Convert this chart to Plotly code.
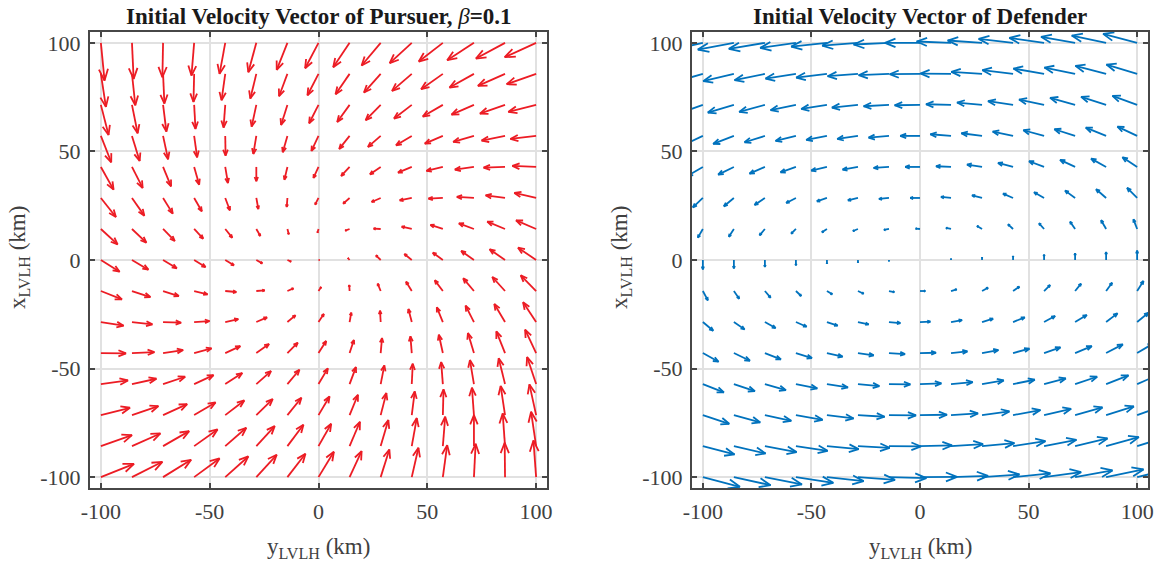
import plotly.graph_objects as go

# Grid of initial positions (km): columns along y_LVLH, rows along x_LVLH (top row first)
Y_POS = [-100, -85.714, -71.429, -57.143, -42.857, -28.571, -14.286, 0,
         14.286, 28.571, 42.857, 57.143, 71.429, 85.714, 100]
X_POS = [100, 85.714, 71.429, 57.143, 42.857, 28.571, 14.286, 0,
         -14.286, -28.571, -42.857, -57.143, -71.429, -85.714, -100]

TICKS = [-100, -50, 0, 50, 100]
TICK_TEXT = ["-100", "-50", "0", "50", "100"]

# Pursuer initial velocity, component along y_LVLH (horizontal), arrow units
PURSUER_VY = [
    [11, 5, -2, -8, -17, -24, -32, -40, -49, -57, -66, -72, -80, -87, -94],
    [15, 10, 4, -2, -11, -18, -25, -33, -42, -50, -59, -65, -73, -81, -88],
    [23, 17, 10, 4, -5, -14, -19, -28, -37, -45, -53, -60, -67, -75, -83],
    [31, 23, 15, 9, 1, -9, -14, -21, -31, -38, -47, -54, -62, -70, -77],
    [38, 32, 24, 15, 8, 0, -9, -15, -25, -32, -41, -49, -57, -64, -71],
    [45, 37, 29, 23, 14, 6, -2, -10, -19, -27, -36, -43, -51, -58, -65],
    [50, 43, 35, 27, 21, 12, 4, -3, -13, -21, -30, -37, -45, -53, -60],
    [56, 49, 41, 34, 26, 18, 11, 3, -5, -14, -22, -30, -38, -46, -54],
    [63, 55, 47, 40, 33, 25, 18, 8, -1, -9, -17, -24, -32, -38, -46],
    [68, 61, 54, 46, 39, 32, 24, 16, 5, -2, -10, -18, -25, -32, -39],
    [75, 67, 60, 52, 45, 38, 31, 23, 13, 4, -4, -12, -18, -26, -33],
    [81, 73, 66, 58, 51, 44, 36, 28, 19, 11, 3, -5, -12, -19, -27],
    [87, 79, 72, 64, 57, 49, 42, 33, 25, 17, 9, 2, -6, -13, -20],
    [93, 85, 78, 70, 63, 55, 48, 38, 31, 23, 15, 7, 0, -7, -15],
    [99, 91, 84, 76, 69, 61, 54, 46, 36, 26, 20, 13, 5, -1, -8],
]

# Pursuer initial velocity, component along x_LVLH (vertical), arrow units
PURSUER_VX = [
    [-113, -108, -103, -98, -93, -88, -81, -76, -73, -68, -61, -56, -52, -47, -43],
    [-99, -94, -89, -84, -79, -74, -67, -64, -61, -56, -51, -46, -41, -36, -31],
    [-90, -85, -80, -72, -68, -65, -60, -55, -51, -46, -41, -35, -29, -26, -21],
    [-79, -75, -70, -64, -59, -54, -49, -45, -39, -33, -28, -23, -18, -14, -9],
    [-68, -63, -58, -53, -48, -43, -38, -33, -27, -22, -17, -12, -8, -2, 3],
    [-57, -53, -47, -40, -37, -33, -27, -20, -17, -12, -7, -2, 3, 8, 15],
    [-46, -41, -36, -29, -26, -21, -16, -11, -5, 1, 7, 12, 17, 22, 26],
    [-35, -29, -25, -21, -16, -10, -5, 0, 6, 14, 18, 22, 27, 32, 37],
    [-25, -18, -15, -10, -3, 2, 8, 12, 18, 22, 28, 32, 38, 42, 47],
    [-11, -7, -2, 3, 9, 14, 20, 24, 28, 34, 39, 44, 49, 54, 59],
    [-1, 3, 9, 14, 21, 27, 31, 36, 39, 45, 50, 55, 60, 65, 70],
    [11, 16, 22, 27, 33, 39, 43, 47, 51, 56, 61, 66, 72, 77, 81],
    [22, 27, 33, 38, 44, 48, 52, 56, 61, 66, 71, 77, 82, 87, 92],
    [33, 38, 45, 50, 55, 60, 64, 67, 73, 78, 84, 88, 93, 98, 103],
    [40, 46, 52, 56, 62, 67, 70, 76, 78, 83, 88, 96, 100, 103, 110],
]

# Defender initial velocity, component along y_LVLH (horizontal), arrow units
DEFENDER_VY = [
    [-108, -108, -108, -107, -107, -107, -106, -105, -103, -103, -103, -104, -102, -103, -102],
    [-92, -92, -91, -91, -92, -91, -91, -91, -92, -92, -92, -92, -92, -92, -92],
    [-77, -78, -77, -76, -77, -78, -76, -76, -75, -75, -75, -75, -75, -75, -74],
    [-61, -62, -61, -61, -62, -62, -61, -59, -62, -62, -61, -62, -62, -61, -59],
    [-46, -47, -46, -46, -47, -46, -46, -44, -45, -45, -45, -45, -45, -45, -44],
    [-30, -30, -31, -29, -30, -30, -30, -29, -30, -30, -30, -30, -30, -30, -30],
    [-15, -15, -16, -14, -15, -15, -15, -13, -15, -15, -15, -15, -15, -15, -11],
    [0, 0, 0, 0, 0, 0, 0, 0, 0, 0, 0, 0, 0, 0, 0],
    [15, 16, 17, 16, 16, 17, 16, 16, 17, 18, 19, 18, 18, 18, 19],
    [31, 32, 32, 32, 32, 32, 34, 31, 33, 33, 35, 33, 35, 34, 34],
    [47, 48, 48, 48, 47, 47, 48, 48, 49, 49, 49, 49, 50, 50, 49],
    [63, 63, 63, 64, 63, 64, 64, 64, 65, 65, 65, 65, 66, 67, 67],
    [79, 79, 79, 80, 80, 80, 81, 81, 81, 82, 82, 81, 82, 83, 83],
    [95, 95, 95, 95, 95, 95, 96, 96, 96, 97, 97, 97, 97, 98, 98],
    [111, 110, 111, 112, 110, 111, 112, 111, 111, 112, 112, 111, 112, 112, 112],
]

# Defender initial velocity, component along x_LVLH (vertical), arrow units
DEFENDER_VX = [
    [-24, -20, -18, -15, -11, -8, -5, 0, 4, 7, 12, 15, 18, 22, 27],
    [-26, -22, -19, -14, -11, -7, -4, -1, 1, 6, 11, 16, 19, 24, 28],
    [-27, -23, -21, -16, -12, -8, -4, -1, 2, 7, 11, 16, 21, 24, 27],
    [-28, -24, -19, -15, -12, -9, -5, 0, 5, 8, 13, 17, 20, 25, 28],
    [-27, -23, -20, -16, -11, -8, -3, 0, 2, 7, 12, 17, 21, 25, 29],
    [-28, -25, -21, -15, -10, -7, -3, 0, 3, 8, 13, 17, 22, 26, 30],
    [-26, -23, -19, -14, -10, -6, -3, 1, 3, 9, 14, 17, 22, 26, 29],
    [-28, -25, -21, -16, -11, -8, -4, 0, 4, 8, 12, 16, 20, 24, 28],
    [-28, -23, -20, -15, -10, -8, -3, 0, 5, 10, 13, 18, 22, 25, 30],
    [-26, -22, -18, -14, -11, -7, -3, 1, 6, 10, 14, 18, 21, 26, 28],
    [-26, -23, -19, -15, -11, -7, -3, 1, 5, 9, 13, 17, 21, 26, 29],
    [-25, -21, -18, -13, -10, -6, -1, 2, 6, 11, 13, 17, 22, 26, 29],
    [-26, -22, -17, -14, -10, -5, -1, 1, 5, 11, 15, 19, 23, 26, 30],
    [-25, -22, -18, -14, -9, -5, -1, 2, 6, 9, 15, 19, 23, 27, 31],
    [-29, -24, -22, -17, -12, -8, -3, 1, 4, 8, 11, 15, 20, 23, 27],
]

ARROW_SCALE = 1 / 6.51   # km of arrow per velocity unit
HEAD_LEN = 0.3           # arrowhead length as a fraction of the arrow
HEAD_WIDTH = 0.4         # arrowhead half-width relative to its length

RED = "#EC1C24"
BLUE = "#0072BD"
FRAME = "#474747"
GRID = "#e1e1e1"
TEXT = "#404040"
FONT = "Liberation Serif"


def quiver_path(vy, vx):
    """Build one polyline (with gaps) holding every shaft and arrowhead."""
    xs, ys = [], []
    for i, xr in enumerate(X_POS):
        for j, yc in enumerate(Y_POS):
            du = vy[i][j] * ARROW_SCALE
            dv = vx[i][j] * ARROW_SCALE
            tx, ty = yc + du, xr + dv
            bx, by = tx - HEAD_LEN * du, ty - HEAD_LEN * dv
            px, py = -dv * HEAD_LEN * HEAD_WIDTH, du * HEAD_LEN * HEAD_WIDTH
            xs += [yc, tx, None, bx + px, tx, bx - px, None]
            ys += [xr, ty, None, by + py, ty, by - py, None]
    return xs, ys


fig = go.Figure()

for vy, vx, color, xa, ya in [
    (PURSUER_VY, PURSUER_VX, RED, "x", "y"),
    (DEFENDER_VY, DEFENDER_VX, BLUE, "x2", "y2"),
]:
    qx, qy = quiver_path(vy, vx)
    fig.add_trace(go.Scatter(
        x=qx, y=qy, mode="lines",
        line=dict(color=color, width=1.8),
        xaxis=xa, yaxis=ya, hoverinfo="skip", showlegend=False,
    ))

axis_style = dict(
    range=[-105, 105],
    tickvals=TICKS, ticktext=TICK_TEXT,
    ticks="inside", ticklen=5, tickwidth=1.5, tickcolor=FRAME,
    showline=True, linewidth=2, linecolor=FRAME, mirror="ticks",
    showgrid=True, gridcolor=GRID, gridwidth=1.5,
    zeroline=False, automargin=False,
    tickfont=dict(family=FONT, size=22, color=TEXT),
    fixedrange=True,
)

W, H = 1160, 562
L1, R1 = 90, 547
L2, R2 = 692, 1148
TOP, BOT = 32, 488

fig.update_layout(
    template="none",
    width=W, height=H,
    margin=dict(l=0, r=0, t=0, b=0, autoexpand=False),
    paper_bgcolor="white", plot_bgcolor="white",
    showlegend=False,
    xaxis=dict(domain=[L1 / W, R1 / W], anchor="y", ticklabelstandoff=3, **axis_style),
    yaxis=dict(domain=[1 - BOT / H, 1 - TOP / H], anchor="x", ticklabelstandoff=3, **axis_style),
    xaxis2=dict(domain=[L2 / W, R2 / W], anchor="y2", ticklabelstandoff=3, **axis_style),
    yaxis2=dict(domain=[1 - BOT / H, 1 - TOP / H], anchor="x2", ticklabelstandoff=3, **axis_style),
)

title_font = dict(family=FONT, size=23, color="#1a1a1a")
label_font = dict(family=FONT, size=23, color=TEXT)

annotations = [
    dict(text="<b>Initial Velocity Vector of Pursuer, </b><i>β</i><b>=0.1</b>",
         x=(L1 + R1) / 2 / W, y=1 - 16 / H, font=title_font),
    dict(text="<b>Initial Velocity Vector of Defender</b>",
         x=(L2 + R2) / 2 / W, y=1 - 16 / H, font=title_font),
    dict(text="y<sub>LVLH</sub> (km)", x=(L1 + R1) / 2 / W, y=1 - 548 / H, font=label_font),
    dict(text="y<sub>LVLH</sub> (km)", x=(L2 + R2) / 2 / W, y=1 - 548 / H, font=label_font),
    dict(text="x<sub>LVLH</sub> (km)", x=19 / W, y=1 - 258 / H, textangle=-90, font=label_font),
    dict(text="x<sub>LVLH</sub> (km)", x=621 / W, y=1 - 258 / H, textangle=-90, font=label_font),
]
for a in annotations:
    a.update(xref="paper", yref="paper", showarrow=False,
             xanchor="center", yanchor="middle")
fig.update_layout(annotations=annotations)

fig.write_html("out.html")
